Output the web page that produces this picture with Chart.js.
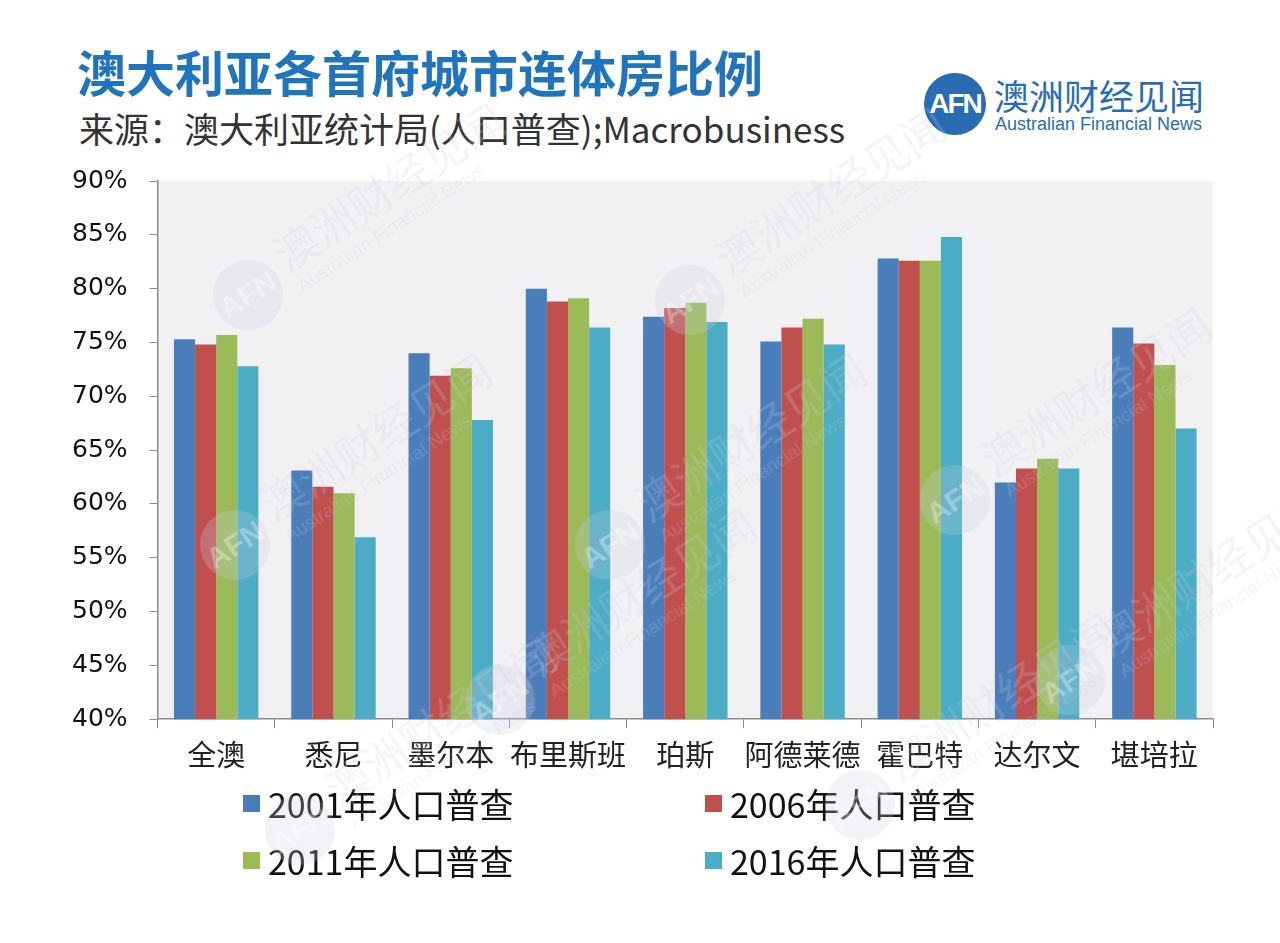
<!DOCTYPE html>
<html>
<head>
<meta charset="utf-8">
<script src="https://cdn.jsdelivr.net/npm/chart.js@4/dist/chart.umd.min.js"></script>
<style>
    body { margin: 0; width: 1280px; height: 943px; background: #fff; position: relative; overflow: hidden; font-family: "Noto Sans CJK SC", sans-serif; }
    .title { position: absolute; left: 77px; top: 46px; font-size: 49px; line-height: 1; font-weight: bold; color: #1f74bd; white-space: nowrap; }
    .subtitle { position: absolute; left: 79px; top: 110px; font-size: 35px; line-height: 1; color: #333; white-space: nowrap; }
    .logo-circle { position: absolute; left: 924px; top: 73px; width: 62px; height: 62px; border-radius: 50%; background: #2a6cb4; color: #fff; font-family: "Liberation Sans", Arial, sans-serif; font-weight: bold; font-size: 28px; line-height: 62px; text-align: center; letter-spacing: -2px; }
    .logo-cn { position: absolute; left: 994px; top: 77px; font-size: 35px; line-height: 1; color: #2a6cb4; white-space: nowrap; }
    .logo-en { position: absolute; left: 995px; top: 115px; font-family: "Liberation Sans", Arial, sans-serif; font-size: 18px; line-height: 1; color: #2a6cb4; white-space: nowrap; }
    #chartBox { position: absolute; left: 0; top: 144px; width: 1220px; height: 641px; }
    #legend { position: absolute; left: 243px; top: 783px; display: grid; grid-template-columns: 462px 300px; row-gap: 17px; }
    .legend-item { display: flex; align-items: center; height: 40px; font-size: 34px; color: #111; white-space: nowrap; }
    .legend-box { width: 17px; height: 17px; margin-right: 8px; }
    .wm { position: absolute; width: 360px; height: 80px; transform-origin: 35px 40px; transform: rotate(-33deg); pointer-events: none; color: rgba(200, 206, 224, 0.22); }
    .wm .c { position: absolute; left: 0; top: 5px; width: 70px; height: 70px; border-radius: 50%; background: rgba(200, 206, 224, 0.25); color: rgba(255, 255, 255, 0.3); font-family: "Liberation Sans", Arial, sans-serif; font-size: 30px; line-height: 70px; text-align: center; font-weight: bold; }
    .wm .t1 { position: absolute; left: 80px; top: 2px; font-size: 44px; line-height: 1; white-space: nowrap; }
    .wm .t2 { position: absolute; left: 82px; top: 52px; font-family: "Liberation Sans", Arial, sans-serif; font-size: 19px; line-height: 1; white-space: nowrap; }
</style>
</head>
<body>
<div class="title">澳大利亚各首府城市连体房比例</div>
<div class="subtitle">来源：澳大利亚统计局(人口普查);Macrobusiness</div>
<div class="logo-circle">AFN</div>
<div class="logo-cn">澳洲财经见闻</div>
<div class="logo-en">Australian Financial News</div>
<div id="chartBox"><canvas id="barChart"></canvas></div>
<div id="legend"></div>
<div id="marks"></div>

<script>
// Data
const cities = ['全澳', '悉尼', '墨尔本', '布里斯班', '珀斯', '阿德莱德', '霍巴特', '达尔文', '堪培拉'];
const census2001 = [75.3, 63.1, 74.0, 80.0, 77.4, 75.1, 82.8, 62.0, 76.4];
const census2006 = [74.8, 61.6, 71.9, 78.8, 78.2, 76.4, 82.6, 63.3, 74.9];
const census2011 = [75.7, 61.0, 72.6, 79.1, 78.7, 77.2, 82.6, 64.2, 72.9];
const census2016 = [72.8, 56.9, 67.8, 76.4, 76.9, 74.8, 84.8, 63.3, 67.0];
const seriesLabels = ['2001年人口普查', '2006年人口普查', '2011年人口普查', '2016年人口普查'];
const yTicks = [40, 45, 50, 55, 60, 65, 70, 75, 80, 85, 90];

const seriesColors = ['#4a7ebb', '#c0504d', '#9bbb59', '#4bacc6'];

// Light grey fill behind the plot area
const plotBackground = {
    id: 'plotBackground',
    beforeDraw(chart) {
        const { ctx, chartArea } = chart;
        ctx.save();
        ctx.fillStyle = '#f1f1f3';
        ctx.fillRect(chartArea.left, chartArea.top, chartArea.right - chartArea.left, chartArea.bottom - chartArea.top);
        ctx.restore();
    }
};

const seriesData = [census2001, census2006, census2011, census2016];

const chart = new Chart(document.getElementById('barChart'), {
    type: 'bar',
    data: {
        labels: cities,
        datasets: seriesData.map((values, i) => ({
            label: seriesLabels[i],
            data: values,
            backgroundColor: seriesColors[i],
            borderWidth: 0,
            barPercentage: 1.0,
            categoryPercentage: 0.72
        }))
    },
    options: {
        responsive: true,
        maintainAspectRatio: false,
        animation: false,
        layout: {
            padding: { top: 4, left: 50, right: 7, bottom: 4 }
        },
        scales: {
            y: {
                min: 40,
                max: 90,
                afterBuildTicks: axis => { axis.ticks = yTicks.map(v => ({ value: v })); },
                ticks: {
                    color: '#111',
                    padding: 22,
                    font: { family: 'DejaVu Sans', size: 25 },
                    callback: value => value + '%'
                },
                grid: {
                    drawOnChartArea: false,
                    drawTicks: true,
                    tickLength: 8,
                    color: '#8c8c8c'
                },
                border: { color: '#8c8c8c', width: 1.5 }
            },
            x: {
                ticks: {
                    color: '#222',
                    padding: 9,
                    autoSkip: false,
                    maxRotation: 0,
                    minRotation: 0,
                    font: { family: 'Noto Sans CJK SC', size: 29 }
                },
                grid: {
                    offset: true,
                    drawOnChartArea: false,
                    tickLength: 9,
                    color: '#8c8c8c'
                },
                border: { color: '#8c8c8c', width: 1.5 }
            }
        },
        plugins: {
            legend: { display: false },
            tooltip: { enabled: false }
        }
    },
    plugins: [plotBackground]
});

// Two-column legend built from the chart's datasets
const legendEl = document.getElementById('legend');
chart.data.datasets.forEach(ds => {
    const item = document.createElement('div');
    item.className = 'legend-item';
    item.innerHTML = `<span class="legend-box" style="background:${ds.backgroundColor}"></span><span>${ds.label}</span>`;
    legendEl.appendChild(item);
});

// Faint publisher watermarks over the picture
const watermarkSpots = [[213, 255], [655, 260], [200, 505], [575, 505], [920, 460], [265, 790], [825, 765], [1035, 640], [465, 660]];
const marksEl = document.getElementById('marks');
watermarkSpots.forEach(([x, y]) => {
    const wm = document.createElement('div');
    wm.className = 'wm';
    wm.style.left = x + 'px';
    wm.style.top = y + 'px';
    wm.innerHTML = '<div class="c">AFN</div><div class="t1">澳洲财经见闻</div><div class="t2">Australian Financial News</div>';
    marksEl.appendChild(wm);
});
</script>
</body>
</html>
